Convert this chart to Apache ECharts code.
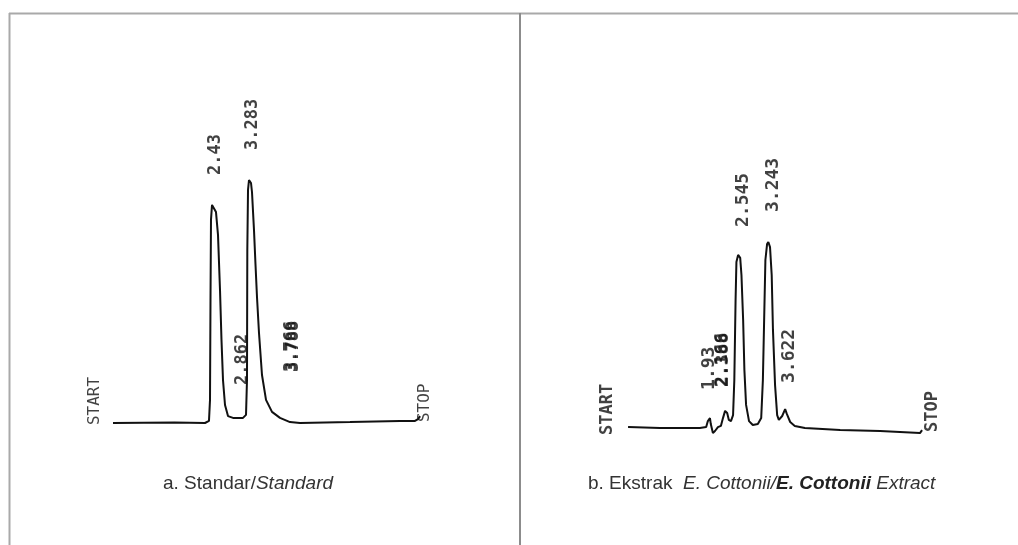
<!DOCTYPE html>
<html>
<head>
<meta charset="utf-8">
<script src="https://cdn.jsdelivr.net/npm/echarts@6/dist/echarts.min.js"></script>
<style>html,body{margin:0;padding:0;background:#fff;}#c{width:1018px;height:545px;}</style>
</head>
<body>
<div id="c"></div>
<script>
// ---- Panel a: Standard (time in min, detector signal) ----
const timeA = [0, 1.5, 2.244, 2.341, 2.366, 2.378, 2.39, 2.415, 2.463, 2.512, 2.561, 2.61, 2.646, 2.683, 2.732, 2.805, 2.927, 3.171, 3.244, 3.268, 3.276, 3.293, 3.317, 3.366, 3.39, 3.439, 3.475, 3.512, 3.561, 3.634, 3.732, 3.878, 4.073, 4.317, 4.561, 5.78, 7.0, 7.366, 7.44, 7.49];
const sigA  = [0, 0.2, 0, 0.7, 7.7, 41, 67.7, 72.7, 72.3, 70.3, 62.7, 44.3, 27.7, 14.3, 6, 2.3, 1.7, 1.7, 2.7, 14.3, 57.7, 77.7, 81, 80, 77, 64.3, 53, 42, 30, 16, 7.7, 3.7, 1.7, 0.3, 0, 0.3, 0.7, 0.7, 1.3, 2.3];
const peakLabelsA = ["2.43", "3.283", "2.862", "3.766", "3.788"];
const peakLabelTimeA = [2.49, 3.41, 3.17, 4.35, 4.4];
const peakLabelLevelA = [82.7, 91, 12.7, 17, 17];
const markerLabelsA = ["START", "STOP"];
const markerTimeA = [-0.44, 7.61];
const markerLevelA = [-0.7, 0.3];

// ---- Panel b: E. Cottonii extract ----
const timeB = [-0.07, 0.69, 1.64, 1.79, 1.83, 1.88, 1.9, 1.95, 2.0, 2.07, 2.14, 2.19, 2.24, 2.29, 2.33, 2.38, 2.43, 2.46, 2.49, 2.51, 2.55, 2.6, 2.63, 2.67, 2.7, 2.74, 2.81, 2.9, 3.02, 3.1, 3.14, 3.17, 3.2, 3.24, 3.27, 3.31, 3.35, 3.38, 3.43, 3.48, 3.52, 3.6, 3.67, 3.71, 3.79, 3.9, 4.14, 4.98, 5.93, 6.88, 6.93];
const sigB  = [0.3, 0, 0, 0.3, 2.3, 3.3, 1.3, -1.7, -1, 0.3, 0.7, 3.3, 5.7, 5, 2.7, 2.3, 4.3, 16, 42.7, 55.3, 57.7, 56.7, 51, 36, 19.3, 7.7, 2.3, 1, 1.3, 3.3, 16, 36, 56, 61.3, 62, 60.3, 51, 32.7, 14.3, 4.3, 2.7, 4, 6.3, 4.7, 2, 0.7, 0, -0.7, -1, -1.7, -0.7];
const peakLabelsB = ["2.545", "3.243", "1.93", "2.166", "2.388", "3.622"];
const peakLabelTimeB = [2.67, 3.38, 1.86, 2.17, 2.21, 3.76];
const peakLabelLevelB = [67, 72, 12.7, 13.7, 13.7, 15];
const markerLabelsB = ["START", "STOP"];
const markerTimeB = [-0.55, 7.19];
const markerLevelB = [-2.3, -1.3];

const captionA = ["a. Standar/", "Standard"];
const captionB = ["b. Ekstrak  ", "E. Cottonii/", "E. Cottonii", " Extract"];

const INK = '#111';
function labelSeries(idx, names, times, levels, size, bold) {
  return {
    type: 'scatter', xAxisIndex: idx, yAxisIndex: idx, symbolSize: 0, clip: false, silent: true,
    data: names.map((n, i) => ({ name: n, value: [times[i], levels[i]] })),
    label: {
      show: true, position: 'inside', formatter: '{b}', rotate: 90,
      align: 'left', verticalAlign: 'middle',
      fontFamily: 'DejaVu Sans Mono', fontSize: size, fontWeight: bold ? 'bold' : 'normal', color: INK
    }
  };
}

const capStyle = { fontFamily: 'Liberation Sans', fontSize: 19, fontWeight: 'normal', color: '#333' };
const chart = echarts.init(document.getElementById('c'), null, { renderer: 'canvas' });
chart.setOption({
  animation: false,
  backgroundColor: '#fff',
  grid: [
    { left: 72, width: 369, top: 123, height: 330 },
    { left: 589, width: 378, top: 128, height: 330 }
  ],
  xAxis: [
    { type: 'value', gridIndex: 0, min: -1, max: 8, show: false },
    { type: 'value', gridIndex: 1, min: -1, max: 8, show: false }
  ],
  yAxis: [
    { type: 'value', gridIndex: 0, min: -10, max: 100, show: false },
    { type: 'value', gridIndex: 1, min: -10, max: 100, show: false }
  ],
  title: [
    {
      left: 158, top: 469,
      text: '{r|' + captionA[0] + '}{i|' + captionA[1] + '}',
      textStyle: { fontWeight: 'normal', rich: {
        r: Object.assign({}, capStyle),
        i: Object.assign({}, capStyle, { fontStyle: 'italic' })
      } }
    },
    {
      left: 583, top: 469,
      text: '{r|' + captionB[0] + '}{i|' + captionB[1] + '}{b|' + captionB[2] + '}{i|' + captionB[3] + '}',
      textStyle: { fontWeight: 'normal', rich: {
        r: Object.assign({}, capStyle),
        i: Object.assign({}, capStyle, { fontStyle: 'italic' }),
        b: Object.assign({}, capStyle, { fontStyle: 'italic', fontWeight: 'bold', color: '#222' })
      } }
    }
  ],
  graphic: [
    { type: 'line', shape: { x1: 9, y1: 13.5, x2: 1018, y2: 13.5 }, style: { stroke: '#a9a9a9', lineWidth: 2 } },
    { type: 'line', shape: { x1: 9.5, y1: 13, x2: 9.5, y2: 545 }, style: { stroke: '#a9a9a9', lineWidth: 2 } },
    { type: 'line', shape: { x1: 520, y1: 13, x2: 520, y2: 545 }, style: { stroke: '#8c8c8c', lineWidth: 2 } }
  ],
  series: [
    { type: 'line', xAxisIndex: 0, yAxisIndex: 0, showSymbol: false, symbol: 'none', clip: false,
      lineStyle: { color: INK, width: 2 }, data: timeA.map((t, i) => [t, sigA[i]]) },
    { type: 'line', xAxisIndex: 1, yAxisIndex: 1, showSymbol: false, symbol: 'none', clip: false,
      lineStyle: { color: INK, width: 2 }, data: timeB.map((t, i) => [t, sigB[i]]) },
    labelSeries(0, peakLabelsA, peakLabelTimeA, peakLabelLevelA, 17, true),
    labelSeries(0, markerLabelsA, markerTimeA, markerLevelA, 16, false),
    labelSeries(1, peakLabelsB, peakLabelTimeB, peakLabelLevelB, 18, true),
    labelSeries(1, markerLabelsB, markerTimeB, markerLevelB, 17, true)
  ]
});
</script>
</body>
</html>
